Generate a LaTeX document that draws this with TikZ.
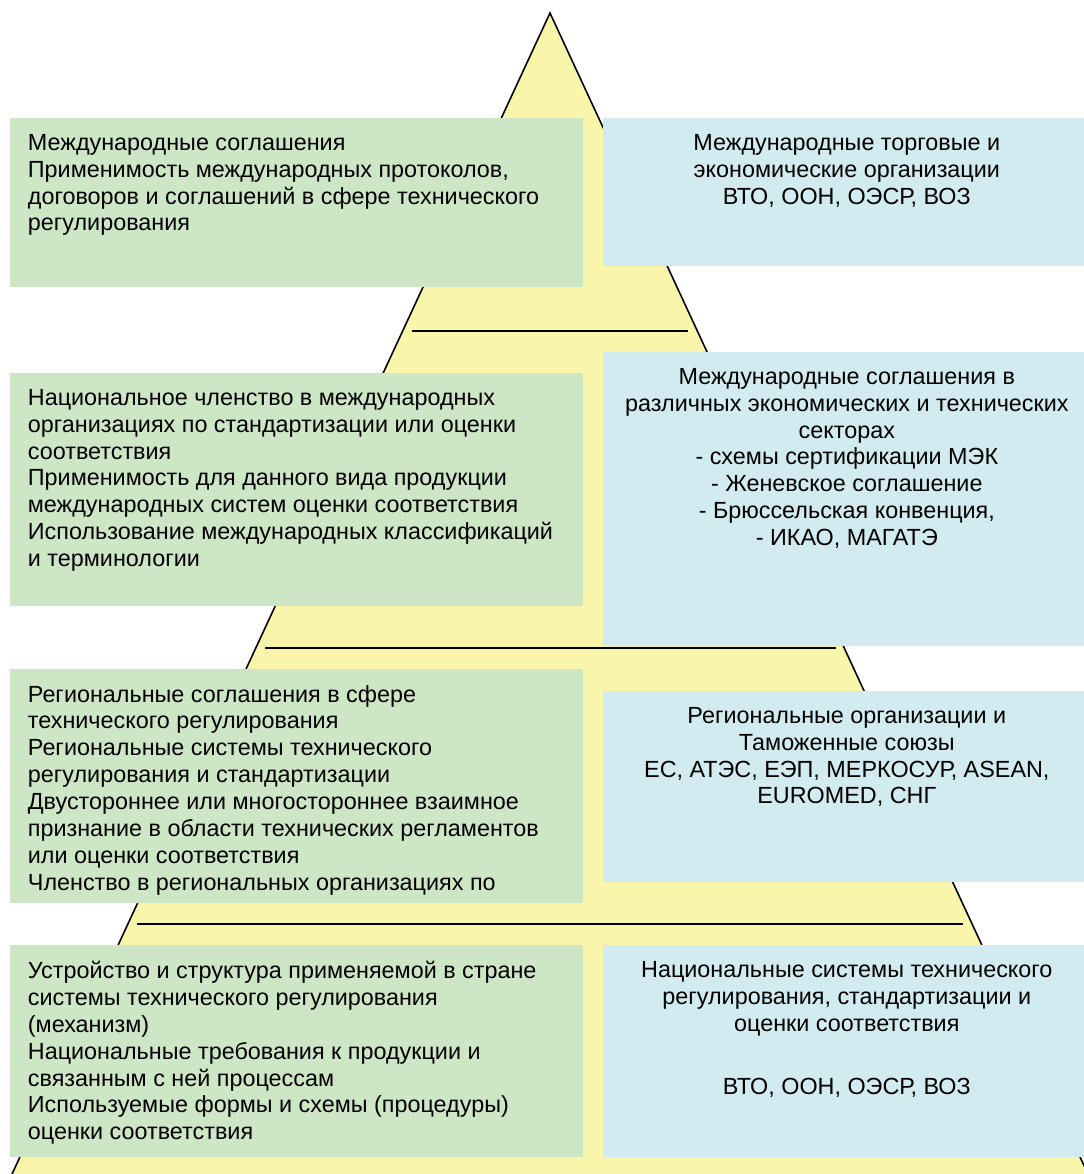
\documentclass[tikz,border=0pt]{standalone}
\usepackage{fontspec}
\setmainfont{Liberation Sans}
\usepackage{xcolor}
\usetikzlibrary{positioning}

\definecolor{boxgreen}{RGB}{205,230,197}
\definecolor{boxblue}{RGB}{209,235,240}
\definecolor{pyryellow}{RGB}{249,245,170}

\begin{document}
\begin{tikzpicture}[
    x=0.02cm, y=-0.02cm,
    every node/.style={font=\fontsize{13.3}{15.3}\selectfont},
    greenbox/.style={
        rectangle,
        fill=boxgreen,
        anchor=north west,
        minimum width=11.46cm,
        inner sep=0pt
    },
    bluebox/.style={
        rectangle,
        fill=boxblue,
        anchor=north west,
        minimum width=9.62cm,
        inner sep=0pt
    },
    lefttext/.style={
        inner sep=0pt,
        align=left
    },
    righttext/.style={
        inner sep=0pt,
        align=center,
        xshift=0.06cm
    },
    level/.style={line width=1.1pt, black}
]

\useasboundingbox (0,0) rectangle (1084,1174);
\clip (0,0) rectangle (1084,1174);

% pyramid
\fill[pyryellow, draw=black, line width=0.9pt] (550,13) -- (0,1200) -- (1100,1200) -- cycle;

\draw[level] (412,331) -- (688,331);
\draw[level] (265,648) -- (836,648);
\draw[level] (137,924) -- (963,924);

% boxes
\node (g1) [greenbox, minimum height=3.38cm] at (10,118) {};
\node (b1) [bluebox, minimum height=2.96cm] at (603,118) {};
\node (g2) [greenbox, minimum height=4.66cm] at (10,373) {};
\node (b2) [bluebox, minimum height=5.88cm] at (603,352) {};
\node (g3) [greenbox, minimum height=4.68cm] at (10,669) {};
\node (b3) [bluebox, minimum height=3.82cm] at (603,691) {};
\node (g4) [greenbox, minimum height=4.24cm] at (10,945) {};
\node (b4) [bluebox, minimum height=4.24cm] at (603,945) {};

% texts
\node (g1t) [lefttext, below right=9pt and 10pt of g1.north west]
    {Международные соглашения\\
     Применимость международных протоколов,\\
     договоров и соглашений в сфере технического\\
     регулирования};
\node (b1t) [righttext, below=9pt of b1.north]
    {Международные торговые и\\
     экономические организации\\
     ВТО, ООН, ОЭСР, ВОЗ};

\node (g2t) [lefttext, below right=9pt and 10pt of g2.north west]
    {Национальное членство в международных\\
     организациях по стандартизации или оценки\\
     соответствия\\
     Применимость для данного вида продукции\\
     международных систем оценки соответствия\\
     Использование международных классификаций\\
     и терминологии};
\node (b2t) [righttext, below=9pt of b2.north]
    {Международные соглашения в\\
     различных экономических и технических\\
     секторах\\
     - схемы сертификации МЭК\\
     - Женевское соглашение\\
     - Брюссельская конвенция,\\
     - ИКАО, МАГАТЭ};

\node (g3t) [lefttext, below right=9pt and 10pt of g3.north west]
    {Региональные соглашения в сфере\\
     технического регулирования\\
     Региональные системы технического\\
     регулирования и стандартизации\\
     Двустороннее или многостороннее взаимное\\
     признание в области технических регламентов\\
     или оценки соответствия\\
     Членство в региональных организациях по};
\node (b3t) [righttext, below=9pt of b3.north]
    {Региональные организации и\\
     Таможенные союзы\\
     ЕС, АТЭС, ЕЭП, МЕРКОСУР, ASEAN,\\
     EUROMED, СНГ};

\node (g4t) [lefttext, below right=9pt and 10pt of g4.north west]
    {Устройство и структура применяемой в стране\\
     системы технического регулирования\\
     (механизм)\\
     Национальные требования к продукции и\\
     связанным с ней процессам\\
     Используемые формы и схемы (процедуры)\\
     оценки соответствия};
\node (b4t) [righttext, below=9pt of b4.north]
    {Национальные системы технического\\
     регулирования, стандартизации и\\
     оценки соответствия\\[21pt]
     ВТО, ООН, ОЭСР, ВОЗ};

\end{tikzpicture}
\end{document}
